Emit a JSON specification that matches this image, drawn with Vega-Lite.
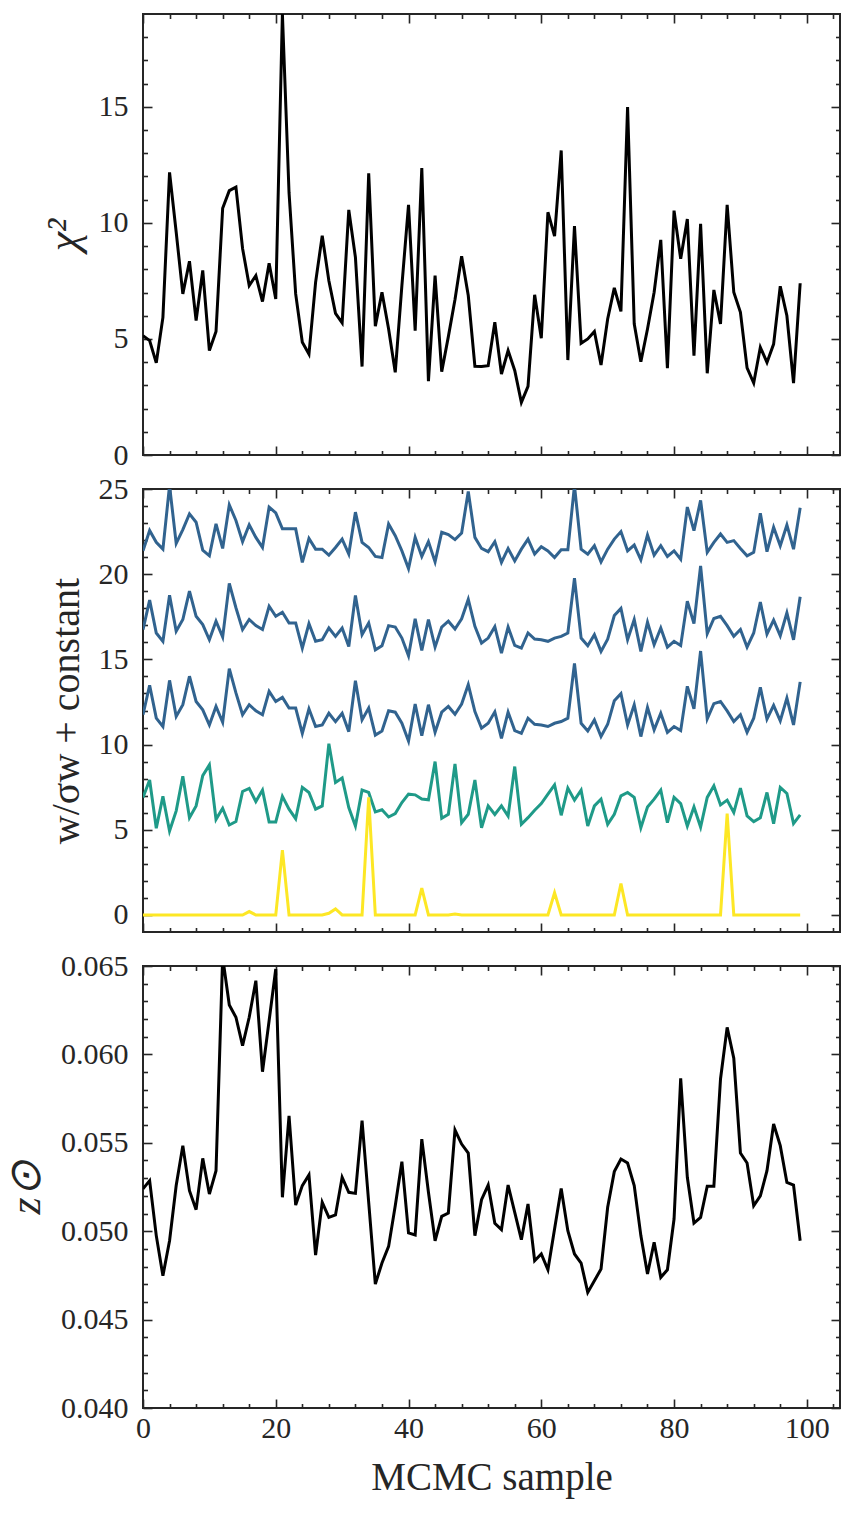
{
  "$schema": "https://vega.github.io/schema/vega-lite/v6.json",
  "padding": {"left": 3, "top": 12, "right": 15, "bottom": 5},
  "background": "white",
  "data": {"values": [
    {"i":0,"c":5.14,"a":21.37,"b":16.75,"d":11.75,"e":6.9,"f":0,"z":0.0524},
    {"i":1,"c":4.93,"a":22.56,"b":18.48,"d":13.48,"e":7.92,"f":0,"z":0.05286},
    {"i":2,"c":3.97,"a":21.87,"b":16.55,"d":11.55,"e":5.09,"f":0,"z":0.04975},
    {"i":3,"c":5.93,"a":21.47,"b":16.06,"d":11.06,"e":6.96,"f":0,"z":0.04748},
    {"i":4,"c":12.18,"a":25.2,"b":18.77,"d":13.77,"e":4.93,"f":0,"z":0.04946},
    {"i":5,"c":9.6,"a":21.81,"b":16.65,"d":11.65,"e":6.11,"f":0,"z":0.05258},
    {"i":6,"c":6.94,"a":22.62,"b":17.34,"d":12.34,"e":8.14,"f":0,"z":0.05484},
    {"i":7,"c":8.35,"a":23.54,"b":19.01,"d":14.01,"e":5.71,"f":0,"z":0.05229},
    {"i":8,"c":5.79,"a":23.05,"b":17.53,"d":12.53,"e":6.4,"f":0,"z":0.05122},
    {"i":9,"c":7.95,"a":21.41,"b":17.04,"d":12.04,"e":8.18,"f":0,"z":0.05412},
    {"i":10,"c":4.5,"a":21.08,"b":16.15,"d":11.15,"e":8.81,"f":0,"z":0.0521},
    {"i":11,"c":5.32,"a":22.95,"b":17.24,"d":12.24,"e":5.61,"f":0,"z":0.05342},
    {"i":12,"c":10.63,"a":21.51,"b":16.31,"d":11.31,"e":6.26,"f":0,"z":0.0655},
    {"i":13,"c":11.39,"a":24.07,"b":19.46,"d":14.46,"e":5.28,"f":0,"z":0.06279},
    {"i":14,"c":11.54,"a":23.15,"b":18.03,"d":13.03,"e":5.48,"f":0,"z":0.0621},
    {"i":15,"c":8.9,"a":21.91,"b":16.75,"d":11.75,"e":7.25,"f":0,"z":0.0605},
    {"i":16,"c":7.3,"a":22.9,"b":17.34,"d":12.34,"e":7.43,"f":0.2,"z":0.0621},
    {"i":17,"c":7.73,"a":22.16,"b":16.98,"d":11.98,"e":6.66,"f":0,"z":0.06417},
    {"i":18,"c":6.61,"a":21.57,"b":16.75,"d":11.75,"e":7.33,"f":0,"z":0.05902},
    {"i":19,"c":8.26,"a":23.94,"b":18.12,"d":13.12,"e":5.46,"f":0,"z":0.06191},
    {"i":20,"c":6.72,"a":23.6,"b":17.53,"d":12.53,"e":5.46,"f":0,"z":0.06483},
    {"i":21,"c":19.0,"a":22.66,"b":17.77,"d":12.77,"e":6.96,"f":3.8,"z":0.05192},
    {"i":22,"c":11.3,"a":22.66,"b":17.14,"d":12.14,"e":6.21,"f":0,"z":0.05653},
    {"i":23,"c":6.94,"a":22.66,"b":17.14,"d":12.14,"e":5.65,"f":0,"z":0.05148},
    {"i":24,"c":4.86,"a":20.69,"b":15.66,"d":10.66,"e":7.49,"f":0,"z":0.05258},
    {"i":25,"c":4.35,"a":22.1,"b":17.1,"d":12.1,"e":7.19,"f":0,"z":0.05318},
    {"i":26,"c":7.44,"a":21.47,"b":16.06,"d":11.06,"e":6.21,"f":0,"z":0.04865},
    {"i":27,"c":9.45,"a":21.47,"b":16.15,"d":11.15,"e":6.4,"f":0,"z":0.05163},
    {"i":28,"c":7.51,"a":21.12,"b":16.84,"d":11.84,"e":10.05,"f":0.1,"z":0.05078},
    {"i":29,"c":6.1,"a":21.57,"b":16.35,"d":11.35,"e":7.78,"f":0.35,"z":0.05092},
    {"i":30,"c":5.69,"a":22.06,"b":16.84,"d":11.84,"e":8.04,"f":0,"z":0.05305},
    {"i":31,"c":10.56,"a":21.18,"b":15.76,"d":10.76,"e":6.3,"f":0,"z":0.0522},
    {"i":32,"c":8.52,"a":23.64,"b":18.75,"d":13.75,"e":5.22,"f":0,"z":0.05214},
    {"i":33,"c":3.81,"a":21.87,"b":16.45,"d":11.45,"e":7.33,"f":0,"z":0.05625},
    {"i":34,"c":12.14,"a":21.57,"b":17.14,"d":12.14,"e":7.19,"f":6.9,"z":0.05163},
    {"i":35,"c":5.55,"a":21.04,"b":15.56,"d":10.56,"e":6.05,"f":0,"z":0.04701},
    {"i":36,"c":7.01,"a":20.98,"b":15.8,"d":10.8,"e":6.17,"f":0,"z":0.0482},
    {"i":37,"c":5.43,"a":22.95,"b":16.98,"d":11.98,"e":5.75,"f":0,"z":0.04914},
    {"i":38,"c":3.56,"a":22.26,"b":16.9,"d":11.9,"e":5.95,"f":0,"z":0.05144},
    {"i":39,"c":7.3,"a":21.37,"b":16.25,"d":11.25,"e":6.6,"f":0,"z":0.05393},
    {"i":40,"c":10.78,"a":20.33,"b":15.21,"d":10.21,"e":7.09,"f":0,"z":0.0499},
    {"i":41,"c":5.36,"a":22.16,"b":17.38,"d":12.38,"e":7.05,"f":0,"z":0.04979},
    {"i":42,"c":12.36,"a":21.04,"b":15.52,"d":10.52,"e":6.8,"f":1.58,"z":0.05521},
    {"i":43,"c":3.18,"a":21.91,"b":17.34,"d":12.34,"e":6.76,"f":0,"z":0.0522},
    {"i":44,"c":7.73,"a":20.72,"b":15.72,"d":10.72,"e":9.0,"f":0,"z":0.04946},
    {"i":45,"c":3.59,"a":22.46,"b":16.9,"d":11.9,"e":5.67,"f":0,"z":0.05084},
    {"i":46,"c":5.1,"a":22.32,"b":17.24,"d":12.24,"e":5.91,"f":0,"z":0.05103},
    {"i":47,"c":6.7,"a":22.03,"b":16.78,"d":11.78,"e":8.87,"f":0.06,"z":0.05572},
    {"i":48,"c":8.56,"a":22.42,"b":17.38,"d":12.38,"e":5.42,"f":0,"z":0.05493},
    {"i":49,"c":6.87,"a":24.86,"b":18.52,"d":13.52,"e":5.91,"f":0,"z":0.05442},
    {"i":50,"c":3.82,"a":22.16,"b":16.94,"d":11.94,"e":7.92,"f":0,"z":0.04975},
    {"i":51,"c":3.81,"a":21.51,"b":15.96,"d":10.96,"e":5.12,"f":0,"z":0.05178},
    {"i":52,"c":3.85,"a":21.32,"b":16.25,"d":11.25,"e":6.4,"f":0,"z":0.05261},
    {"i":53,"c":5.72,"a":21.91,"b":16.92,"d":11.92,"e":5.9,"f":0,"z":0.05045},
    {"i":54,"c":3.49,"a":20.69,"b":15.37,"d":10.37,"e":6.4,"f":0,"z":0.05009},
    {"i":55,"c":4.5,"a":21.51,"b":16.9,"d":11.9,"e":5.81,"f":0,"z":0.05261},
    {"i":56,"c":3.64,"a":20.78,"b":15.82,"d":10.82,"e":8.71,"f":0,"z":0.05107},
    {"i":57,"c":2.27,"a":21.47,"b":15.66,"d":10.66,"e":5.32,"f":0,"z":0.04952},
    {"i":58,"c":2.96,"a":22.06,"b":16.55,"d":11.55,"e":5.71,"f":0,"z":0.05154},
    {"i":59,"c":6.9,"a":21.18,"b":16.19,"d":11.19,"e":6.15,"f":0,"z":0.04833},
    {"i":60,"c":5.03,"a":21.61,"b":16.15,"d":11.15,"e":6.54,"f":0,"z":0.04871},
    {"i":61,"c":10.46,"a":21.37,"b":16.06,"d":11.06,"e":7.09,"f":0,"z":0.04782},
    {"i":62,"c":9.43,"a":20.98,"b":16.25,"d":11.25,"e":7.64,"f":1.3,"z":0.05012},
    {"i":63,"c":13.12,"a":21.43,"b":16.35,"d":11.35,"e":5.85,"f":0,"z":0.05242},
    {"i":64,"c":4.09,"a":21.43,"b":16.55,"d":11.55,"e":7.45,"f":0,"z":0.05003},
    {"i":65,"c":9.86,"a":25.2,"b":19.76,"d":14.76,"e":6.74,"f":0,"z":0.04871},
    {"i":66,"c":4.81,"a":21.47,"b":16.25,"d":11.25,"e":7.33,"f":0,"z":0.0482},
    {"i":67,"c":5.0,"a":21.18,"b":15.8,"d":10.8,"e":5.22,"f":0,"z":0.04654},
    {"i":68,"c":5.32,"a":21.67,"b":16.45,"d":11.45,"e":6.4,"f":0,"z":0.0472},
    {"i":69,"c":3.88,"a":20.72,"b":15.47,"d":10.47,"e":6.8,"f":0,"z":0.04786},
    {"i":70,"c":5.86,"a":21.47,"b":16.19,"d":11.19,"e":5.32,"f":0,"z":0.05135},
    {"i":71,"c":7.2,"a":22.06,"b":17.57,"d":12.57,"e":5.91,"f":0,"z":0.05337},
    {"i":72,"c":6.19,"a":22.5,"b":17.99,"d":12.99,"e":6.99,"f":1.85,"z":0.05408},
    {"i":73,"c":14.99,"a":21.37,"b":16.15,"d":11.15,"e":7.19,"f":0,"z":0.05386},
    {"i":74,"c":5.65,"a":21.71,"b":17.34,"d":12.34,"e":6.9,"f":0,"z":0.05258},
    {"i":75,"c":4.02,"a":20.84,"b":15.47,"d":10.47,"e":5.12,"f":0,"z":0.04975},
    {"i":76,"c":5.43,"a":22.3,"b":17.18,"d":12.18,"e":6.34,"f":0,"z":0.04758},
    {"i":77,"c":7.01,"a":21.12,"b":15.86,"d":10.86,"e":6.8,"f":0,"z":0.04937},
    {"i":78,"c":9.27,"a":21.67,"b":16.84,"d":11.84,"e":7.33,"f":0,"z":0.04739},
    {"i":79,"c":3.74,"a":21.04,"b":15.72,"d":10.72,"e":5.42,"f":0,"z":0.04782},
    {"i":80,"c":10.53,"a":21.37,"b":16.06,"d":11.06,"e":6.9,"f":0,"z":0.05069},
    {"i":81,"c":8.45,"a":20.88,"b":15.82,"d":10.82,"e":6.54,"f":0,"z":0.05865},
    {"i":82,"c":10.17,"a":23.94,"b":18.42,"d":13.42,"e":5.22,"f":0,"z":0.05305},
    {"i":83,"c":4.28,"a":22.56,"b":17.1,"d":12.1,"e":6.34,"f":0,"z":0.05046},
    {"i":84,"c":9.96,"a":24.33,"b":20.49,"d":15.49,"e":5.16,"f":0,"z":0.05078},
    {"i":85,"c":3.52,"a":21.28,"b":16.51,"d":11.51,"e":6.9,"f":0,"z":0.05254},
    {"i":86,"c":7.11,"a":21.87,"b":17.4,"d":12.4,"e":7.58,"f":0,"z":0.05254},
    {"i":87,"c":5.65,"a":22.36,"b":17.53,"d":12.53,"e":6.46,"f":0,"z":0.05861},
    {"i":88,"c":10.78,"a":21.87,"b":16.98,"d":11.98,"e":6.74,"f":5.95,"z":0.06153},
    {"i":89,"c":7.01,"a":21.97,"b":16.35,"d":11.35,"e":6.01,"f":0,"z":0.05978},
    {"i":90,"c":6.15,"a":21.51,"b":16.75,"d":11.75,"e":7.45,"f":0,"z":0.05442},
    {"i":91,"c":3.75,"a":21.08,"b":15.72,"d":10.72,"e":5.81,"f":0,"z":0.05386},
    {"i":92,"c":3.1,"a":21.28,"b":16.55,"d":11.55,"e":5.48,"f":0,"z":0.05144},
    {"i":93,"c":4.64,"a":23.58,"b":18.36,"d":13.36,"e":5.71,"f":0,"z":0.052},
    {"i":94,"c":3.99,"a":21.32,"b":16.49,"d":11.49,"e":7.19,"f":0,"z":0.05342},
    {"i":95,"c":4.78,"a":22.75,"b":17.3,"d":12.3,"e":5.36,"f":0,"z":0.05606},
    {"i":96,"c":7.27,"a":21.67,"b":16.39,"d":11.39,"e":7.49,"f":0,"z":0.05484},
    {"i":97,"c":6.0,"a":22.89,"b":17.73,"d":12.73,"e":7.13,"f":0,"z":0.05276},
    {"i":98,"c":3.1,"a":21.47,"b":16.15,"d":11.15,"e":5.36,"f":0,"z":0.05261},
    {"i":99,"c":7.4,"a":23.9,"b":18.68,"d":13.68,"e":5.87,"f":0,"z":0.04946}
  ]},
  "spacing": 34,
  "bounds": "flush",
  "vconcat": [
    {
      "width": 697, "height": 441,
      "resolve": {"axis": {"x": "independent", "y": "independent"}},
      "layer": [
        {"mark": {"type": "line", "color": "#000000", "strokeWidth": 3, "clip": true},
         "encoding": {
           "x": {"field": "i", "type": "quantitative", "scale": {"domain": [0, 105], "nice": false, "zero": false},
                 "axis": {"orient": "bottom", "values": [0,20,40,60,80,100], "tickSize": -9, "labels": false, "title": null}},
           "y": {"field": "c", "type": "quantitative", "scale": {"domain": [0, 19], "nice": false, "zero": false},
                 "axis": {"orient": "left", "values": [0,5,10,15], "tickSize": -9, "labelPadding": 24, "title": "χ²", "titleFontStyle": "italic", "titleFontSize": 44, "titlePadding": 12}}}},
        {"mark": {"type": "line", "strokeOpacity": 0},
         "encoding": {
           "x": {"field": "i", "type": "quantitative", "scale": {"domain": [0, 105], "nice": false, "zero": false},
                 "axis": {"orient": "top", "values": [0,20,40,60,80,100], "tickSize": -9, "labels": false, "title": null}},
           "y": {"field": "c", "type": "quantitative", "scale": {"domain": [0, 19], "nice": false, "zero": false},
                 "axis": {"orient": "right", "values": [0,5,10,15], "tickSize": -9, "labels": false, "title": null}}}},
        {"mark": {"type": "line", "strokeOpacity": 0},
         "encoding": {
           "x": {"field": "i", "type": "quantitative", "scale": {"domain": [0, 105], "nice": false, "zero": false},
                 "axis": {"orient": "bottom", "values": [4,8,12,16,24,28,32,36,44,48,52,56,64,68,72,76,84,88,92,96,104], "tickSize": -4.5, "labels": false, "title": null}},
           "y": {"field": "c", "type": "quantitative", "scale": {"domain": [0, 19], "nice": false, "zero": false},
                 "axis": {"orient": "left", "values": [1,2,3,4,6,7,8,9,11,12,13,14,16,17,18], "tickSize": -4.5, "labels": false, "title": null}}}},
        {"mark": {"type": "line", "strokeOpacity": 0},
         "encoding": {
           "x": {"field": "i", "type": "quantitative", "scale": {"domain": [0, 105], "nice": false, "zero": false},
                 "axis": {"orient": "top", "values": [4,8,12,16,24,28,32,36,44,48,52,56,64,68,72,76,84,88,92,96,104], "tickSize": -4.5, "labels": false, "title": null}},
           "y": {"field": "c", "type": "quantitative", "scale": {"domain": [0, 19], "nice": false, "zero": false},
                 "axis": {"orient": "right", "values": [1,2,3,4,6,7,8,9,11,12,13,14,16,17,18], "tickSize": -4.5, "labels": false, "title": null}}}}
      ]
    },
    {
      "width": 697, "height": 443,
      "resolve": {"axis": {"x": "independent", "y": "independent"}},
      "layer": [
        {"transform": [{"fold": ["a", "b", "d", "e", "f"], "as": ["s", "v"]}],
         "mark": {"type": "line", "strokeWidth": 3, "clip": true},
         "encoding": {
           "x": {"field": "i", "type": "quantitative", "scale": {"domain": [0, 105], "nice": false, "zero": false},
                 "axis": {"orient": "bottom", "values": [0,20,40,60,80,100], "tickSize": -9, "labels": false, "title": null}},
           "y": {"field": "v", "type": "quantitative", "scale": {"domain": [-1, 25], "nice": false, "zero": false},
                 "axis": {"orient": "left", "values": [0,5,10,15,20,25], "tickSize": -9, "labelPadding": 24, "title": "w/σw + constant", "titleFontSize": 40, "titlePadding": 12}},
           "color": {"field": "s", "type": "nominal", "legend": null,
                     "scale": {"domain": ["a", "b", "d", "e", "f"], "range": ["#31638f", "#31638f", "#31638f", "#1f9a88", "#fde725"]}}}},
        {"mark": {"type": "line", "strokeOpacity": 0},
         "encoding": {
           "x": {"field": "i", "type": "quantitative", "scale": {"domain": [0, 105], "nice": false, "zero": false},
                 "axis": {"orient": "top", "values": [0,20,40,60,80,100], "tickSize": -9, "labels": false, "title": null}},
           "y": {"field": "b", "type": "quantitative", "scale": {"domain": [-1, 25], "nice": false, "zero": false},
                 "axis": {"orient": "right", "values": [0,5,10,15,20,25], "tickSize": -9, "labels": false, "title": null}}}},
        {"mark": {"type": "line", "strokeOpacity": 0},
         "encoding": {
           "x": {"field": "i", "type": "quantitative", "scale": {"domain": [0, 105], "nice": false, "zero": false},
                 "axis": {"orient": "bottom", "values": [4,8,12,16,24,28,32,36,44,48,52,56,64,68,72,76,84,88,92,96,104], "tickSize": -4.5, "labels": false, "title": null}},
           "y": {"field": "b", "type": "quantitative", "scale": {"domain": [-1, 25], "nice": false, "zero": false},
                 "axis": {"orient": "left", "values": [1,2,3,4,6,7,8,9,11,12,13,14,16,17,18,19,21,22,23,24], "tickSize": -4.5, "labels": false, "title": null}}}},
        {"mark": {"type": "line", "strokeOpacity": 0},
         "encoding": {
           "x": {"field": "i", "type": "quantitative", "scale": {"domain": [0, 105], "nice": false, "zero": false},
                 "axis": {"orient": "top", "values": [4,8,12,16,24,28,32,36,44,48,52,56,64,68,72,76,84,88,92,96,104], "tickSize": -4.5, "labels": false, "title": null}},
           "y": {"field": "b", "type": "quantitative", "scale": {"domain": [-1, 25], "nice": false, "zero": false},
                 "axis": {"orient": "right", "values": [1,2,3,4,6,7,8,9,11,12,13,14,16,17,18,19,21,22,23,24], "tickSize": -4.5, "labels": false, "title": null}}}}
      ]
    },
    {
      "width": 697, "height": 442,
      "resolve": {"axis": {"x": "independent", "y": "independent"}},
      "layer": [
        {"mark": {"type": "line", "color": "#000000", "strokeWidth": 3, "clip": true},
         "encoding": {
           "x": {"field": "i", "type": "quantitative", "scale": {"domain": [0, 105], "nice": false, "zero": false},
                 "axis": {"orient": "bottom", "values": [0,20,40,60,80,100], "tickSize": -9, "labelPadding": 14, "labelFlush": false, "title": "MCMC sample", "titleFontSize": 39, "titlePadding": 15}},
           "y": {"field": "z", "type": "quantitative", "scale": {"domain": [0.04, 0.065], "nice": false, "zero": false},
                 "axis": {"orient": "left", "values": [0.04,0.045,0.05,0.055,0.06,0.065], "format": ".3f", "tickSize": -9, "labelPadding": 24, "title": "z⊙", "titleFontStyle": "italic", "titleFontSize": 44, "titlePadding": 12}}}},
        {"mark": {"type": "line", "strokeOpacity": 0},
         "encoding": {
           "x": {"field": "i", "type": "quantitative", "scale": {"domain": [0, 105], "nice": false, "zero": false},
                 "axis": {"orient": "top", "values": [0,20,40,60,80,100], "tickSize": -9, "labels": false, "title": null}},
           "y": {"field": "z", "type": "quantitative", "scale": {"domain": [0.04, 0.065], "nice": false, "zero": false},
                 "axis": {"orient": "right", "values": [0.04,0.045,0.05,0.055,0.06,0.065], "tickSize": -9, "labels": false, "title": null}}}},
        {"mark": {"type": "line", "strokeOpacity": 0},
         "encoding": {
           "x": {"field": "i", "type": "quantitative", "scale": {"domain": [0, 105], "nice": false, "zero": false},
                 "axis": {"orient": "bottom", "values": [4,8,12,16,24,28,32,36,44,48,52,56,64,68,72,76,84,88,92,96,104], "tickSize": -4.5, "labels": false, "title": null}},
           "y": {"field": "z", "type": "quantitative", "scale": {"domain": [0.04, 0.065], "nice": false, "zero": false},
                 "axis": {"orient": "left", "values": [0.041,0.042,0.043,0.044,0.046,0.047,0.048,0.049,0.051,0.052,0.053,0.054,0.056,0.057,0.058,0.059,0.061,0.062,0.063,0.064], "tickSize": -4.5, "labels": false, "title": null}}}},
        {"mark": {"type": "line", "strokeOpacity": 0},
         "encoding": {
           "x": {"field": "i", "type": "quantitative", "scale": {"domain": [0, 105], "nice": false, "zero": false},
                 "axis": {"orient": "top", "values": [4,8,12,16,24,28,32,36,44,48,52,56,64,68,72,76,84,88,92,96,104], "tickSize": -4.5, "labels": false, "title": null}},
           "y": {"field": "z", "type": "quantitative", "scale": {"domain": [0.04, 0.065], "nice": false, "zero": false},
                 "axis": {"orient": "right", "values": [0.041,0.042,0.043,0.044,0.046,0.047,0.048,0.049,0.051,0.052,0.053,0.054,0.056,0.057,0.058,0.059,0.061,0.062,0.063,0.064], "tickSize": -4.5, "labels": false, "title": null}}}}
      ]
    }
  ],
  "config": {
    "view": {"stroke": "#262626", "strokeWidth": 2},
    "axis": {
      "domain": false, "grid": false,
      "tickColor": "#262626", "tickWidth": 1.6,
      "labelFont": "Liberation Serif", "labelFontSize": 30, "labelColor": "#262626",
      "titleFont": "Liberation Serif", "titleFontSize": 38, "titleFontWeight": "normal", "titleColor": "#262626"
    }
  }
}
